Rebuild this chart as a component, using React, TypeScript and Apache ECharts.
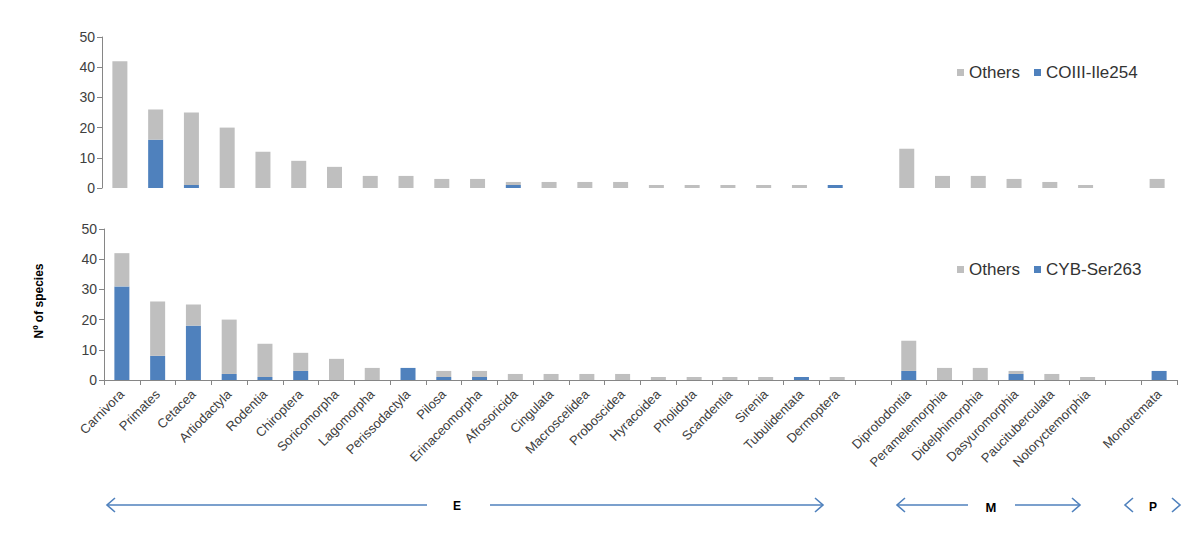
import React, { useEffect, useRef } from "react";
import * as echarts from "echarts";

const categories = [
  "Carnivora", "Primates", "Cetacea", "Artiodactyla", "Rodentia", "Chiroptera",
  "Soricomorpha", "Lagomorpha", "Perissodactyla", "Pilosa", "Erinaceomorpha",
  "Afrosoricida", "Cingulata", "Macroscelidea", "Proboscidea", "Hyracoidea",
  "Pholidota", "Scandentia", "Sirenia", "Tubulidentata", "Dermoptera", "",
  "Diprotodontia", "Peramelemorphia", "Didelphimorphia", "Dasyuromorphia",
  "Paucituberculata", "Notoryctemorphia", "", "Monotremata",
];

const totalSpecies = [42, 26, 25, 20, 12, 9, 7, 4, 4, 3, 3, 2, 2, 2, 2, 1, 1, 1, 1, 1, 1, null, 13, 4, 4, 3, 2, 1, null, 3];
const coiiiIle254 = [0, 16, 1, 0, 0, 0, 0, 0, 0, 0, 0, 1, 0, 0, 0, 0, 0, 0, 0, 0, 1, null, 0, 0, 0, 0, 0, 0, null, 0];
const cybSer263 = [31, 8, 18, 2, 1, 3, 0, 0, 4, 1, 1, 0, 0, 0, 0, 0, 0, 0, 0, 1, 0, null, 3, 0, 0, 2, 0, 0, null, 3];
const yTicks = [0, 10, 20, 30, 40, 50];

const GRAY = "#BFBFBF";
const BLUE = "#4F81BD";
const AXIS = "#868686";

const othersOf = (part: (number | null)[]) =>
  totalSpecies.map((t, i) => (t == null ? null : t - (part[i] as number)));

const arrow = (x1: number, x2: number, y: number, left: boolean, right: boolean) => {
  const els: any[] = [];
  const st = { stroke: BLUE, lineWidth: 1.6, fill: "none" };
  if (x2 > x1) els.push({ type: "line", shape: { x1, y1: y, x2, y2: y }, style: st });
  if (left) els.push({ type: "polyline", shape: { points: [[x1 + 8, y - 7], [x1, y], [x1 + 8, y + 7]] }, style: st });
  if (right) els.push({ type: "polyline", shape: { points: [[x2 - 8, y - 7], [x2, y], [x2 - 8, y + 7]] }, style: st });
  return els;
};

export default function App() {
  const ref = useRef<HTMLDivElement>(null);
  useEffect(() => {
    const chart = echarts.init(ref.current!, null, { renderer: "svg" });
    const yAxisCommon = {
      type: "value",
      min: yTicks[0],
      max: yTicks[yTicks.length - 1],
      interval: 10,
      splitLine: { show: false },
      axisLine: { show: true, lineStyle: { color: AXIS } },
      axisTick: { show: true, length: 5, lineStyle: { color: AXIS } },
      axisLabel: { margin: 7, fontSize: 14, color: "#404040", fontFamily: "Liberation Sans" },
    };
    const labelFont = { fontFamily: "Liberation Sans", color: "#333", fontSize: 17 };
    chart.setOption({
      animation: false,
      backgroundColor: "#fff",
      grid: [
        { left: 102, top: 37, width: 1073, height: 151 },
        { left: 104, top: 229, width: 1073, height: 151 },
      ],
      xAxis: [
        {
          type: "category", gridIndex: 0, data: categories,
          axisLine: { show: false }, axisTick: { show: false }, axisLabel: { show: false },
        },
        {
          type: "category", gridIndex: 1, data: categories,
          axisLine: { show: true, lineStyle: { color: AXIS } },
          axisTick: { show: true, length: 5, lineStyle: { color: AXIS } },
          axisLabel: {
            interval: 0, rotate: 45, margin: 12, fontSize: 13,
            color: "#404040", fontFamily: "Liberation Sans",
          },
        },
      ],
      yAxis: [
        { ...yAxisCommon, gridIndex: 0 },
        { ...yAxisCommon, gridIndex: 1 },
      ],
      legend: [
        {
          data: ["Others", "COIII-Ile254"], left: 957, top: 64, itemWidth: 7, itemHeight: 7,
          itemGap: 14, icon: "rect", textStyle: labelFont, selectedMode: false, padding: 0,
        },
        {
          data: ["Others", "CYB-Ser263"], left: 957, top: 261, itemWidth: 7, itemHeight: 7,
          itemGap: 14, icon: "rect", textStyle: labelFont, selectedMode: false, padding: 0,
        },
      ],
      series: [
        {
          name: "COIII-Ile254", type: "bar", stack: "top", xAxisIndex: 0, yAxisIndex: 0,
          barWidth: 15, data: coiiiIle254, itemStyle: { color: BLUE },
        },
        {
          name: "Others", type: "bar", stack: "top", xAxisIndex: 0, yAxisIndex: 0,
          barWidth: 15, data: othersOf(coiiiIle254), itemStyle: { color: GRAY },
        },
        {
          name: "CYB-Ser263", type: "bar", stack: "bottom", xAxisIndex: 1, yAxisIndex: 1,
          barWidth: 15, data: cybSer263, itemStyle: { color: BLUE },
        },
        {
          name: "Others", type: "bar", stack: "bottom", xAxisIndex: 1, yAxisIndex: 1,
          barWidth: 15, data: othersOf(cybSer263), itemStyle: { color: GRAY },
        },
      ],
      graphic: [
        {
          type: "text", x: 39, y: 301, rotation: Math.PI / 2,
          style: {
            text: "Nº of species", fill: "#000", font: "bold 12px 'Liberation Sans'",
            textAlign: "center", textVerticalAlign: "middle",
          },
        },
        ...arrow(107, 427, 505, true, false),
        ...arrow(490, 823, 505, false, true),
        ...arrow(897, 968, 505, true, false),
        ...arrow(1015, 1080, 505, false, true),
        ...arrow(1125, 1125, 505, true, false),
        ...arrow(1180, 1180, 505, false, true),
        { type: "text", x: 457, y: 506, style: { text: "E", fill: "#000", font: "bold 12px 'Liberation Sans'", textAlign: "center", textVerticalAlign: "middle" } },
        { type: "text", x: 991, y: 507, style: { text: "M", fill: "#000", font: "bold 13px 'Liberation Sans'", textAlign: "center", textVerticalAlign: "middle" } },
        { type: "text", x: 1153, y: 507, style: { text: "P", fill: "#000", font: "bold 12px 'Liberation Sans'", textAlign: "center", textVerticalAlign: "middle" } },
      ],
    });
    return () => chart.dispose();
  }, []);
  return (
    <div
      ref={ref}
      style={{ position: "absolute", left: 0, top: 0, width: 1200, height: 547 }}
    />
  );
}
